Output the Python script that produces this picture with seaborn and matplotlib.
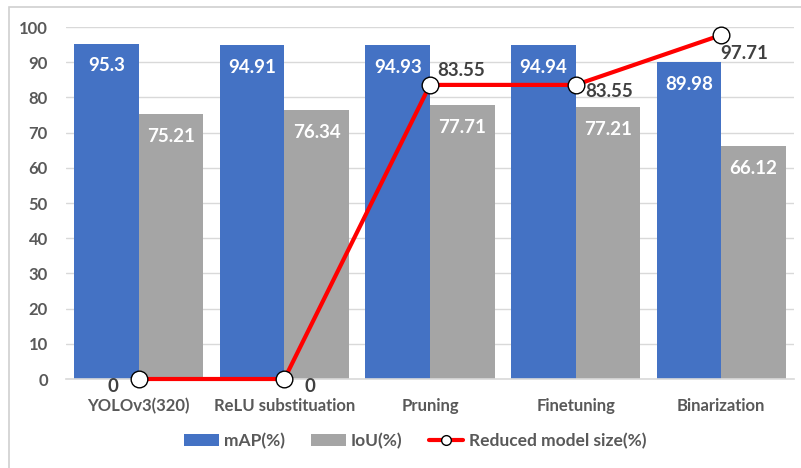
import matplotlib
matplotlib.use("Agg")
import matplotlib.pyplot as plt
from matplotlib.patches import Patch, Rectangle
from matplotlib.lines import Line2D
import numpy as np
import pandas as pd
import seaborn as sns

# Data
stages = ["YOLOv3(320)", "ReLU substituation", "Pruning", "Finetuning", "Binarization"]
map_pct = [95.3, 94.91, 94.93, 94.94, 89.98]
iou_pct = [75.21, 76.34, 77.71, 77.21, 66.12]
reduced_size = [0, 0, 83.55, 83.55, 97.71]
series_names = ["mAP(%)", "IoU(%)", "Reduced model size(%)"]
y_ticks = [0, 10, 20, 30, 40, 50, 60, 70, 80, 90, 100]

BLUE = "#4472C4"
GRAY = "#A5A5A5"
RED = "#FF0000"
TXT = "#595959"
DARK = "#404040"

sns.set_theme(style="white")
plt.rcParams["font.family"] = ["Lato", "DejaVu Sans"]
plt.rcParams["font.weight"] = "bold"

df = pd.DataFrame({
    "stage": stages * 2,
    "value": map_pct + iou_pct,
    "metric": [series_names[0]] * len(stages) + [series_names[1]] * len(stages),
})

fig = plt.figure(figsize=(8.01, 4.68), dpi=100)
ax = fig.add_axes([66 / 801, 1 - 379 / 468, 728 / 801, 352 / 468])

# outer chart frame
fig.patches.append(Rectangle((9 / 801, -0.05), 1.0, 1 - 7 / 468 + 0.05,
                             transform=fig.transFigure, fill=False,
                             edgecolor="#D0D0D0", linewidth=1.2, zorder=0))

sns.barplot(data=df, x="stage", y="value", hue="metric", order=stages,
            hue_order=series_names[:2], palette=[BLUE, GRAY], saturation=1,
            width=0.886, gap=0, linewidth=0, errorbar=None, legend=False, ax=ax)

ax.set_ylim(0, 100)
ax.set_xlim(-0.5, 4.5)
ax.set_yticks(y_ticks)
ax.set_yticklabels([str(t) for t in y_ticks])
ax.yaxis.grid(True, color="#D9D9D9", linewidth=1)
ax.set_axisbelow(True)
for s in ["left", "right", "top"]:
    ax.spines[s].set_visible(False)
ax.spines["bottom"].set_color("#D9D9D9")
ax.spines["bottom"].set_linewidth(1.2)
ax.set_xlabel("")
ax.set_ylabel("")
ax.tick_params(axis="y", length=0, pad=13, labelsize=12, labelcolor=TXT)
ax.tick_params(axis="x", length=0, pad=14, labelsize=12, labelcolor=TXT)
plt.setp(ax.get_xticklabels() + ax.get_yticklabels(), fontweight="bold")

# value labels inside bars
for container in ax.containers:
    for bar in container:
        h = bar.get_height()
        ax.annotate(f"{h:g}", (bar.get_x() + bar.get_width() / 2, h),
                    xytext=(0, -16), textcoords="offset points",
                    ha="center", va="center", color="white",
                    fontsize=13.5, fontweight="bold")

# reduced model size line
xpos = np.arange(len(stages))
ax.plot(xpos, reduced_size, color=RED, linewidth=3, marker="o", markersize=12,
        markerfacecolor="white", markeredgecolor="black", markeredgewidth=1,
        clip_on=False, zorder=5)

# line labels (offsets in pixels, converted to points)
offsets_px = [(-26, -8), (26, -8), (31, 14), (34, -7), (23, -18)]
for x, v, (dx, dy) in zip(xpos, reduced_size, offsets_px):
    ax.annotate(f"{v:g}", (x, v), xytext=(dx * 0.72, dy * 0.72),
                textcoords="offset points", ha="center", va="center",
                color=DARK, fontsize=13.5, fontweight="bold", zorder=6)

handles = [
    Patch(facecolor=BLUE, edgecolor="none"),
    Patch(facecolor=GRAY, edgecolor="none"),
    Line2D([0], [0], color=RED, linewidth=3, marker="o", markersize=7,
           markerfacecolor="white", markeredgecolor="black", markeredgewidth=1),
]
fig.legend(handles, series_names, loc="center", bbox_to_anchor=(415 / 801, 1 - 441 / 468),
           ncol=3, frameon=False, handlelength=2.0, handleheight=0.75,
           handletextpad=0.3, columnspacing=1.5, labelcolor=TXT,
           prop={"weight": "bold", "size": 12.5})

fig.savefig("out.png", dpi=100)
